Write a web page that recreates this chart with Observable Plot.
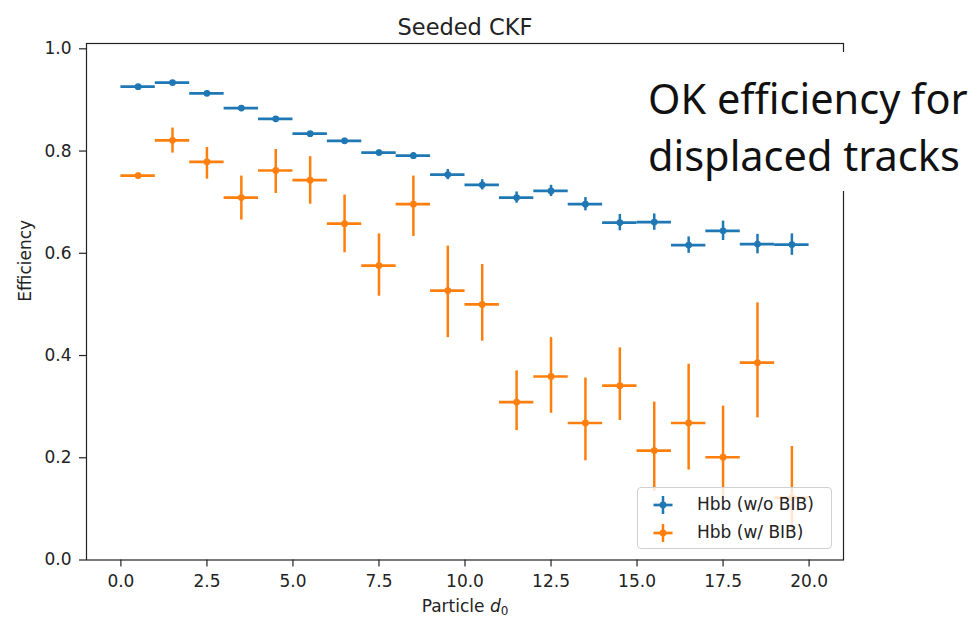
<!DOCTYPE html>
<html>
<head>
<meta charset="utf-8">
<script src="https://cdn.jsdelivr.net/npm/d3@7"></script>
<script src="https://cdn.jsdelivr.net/npm/@observablehq/plot@0.6"></script>
<style>
  body { margin: 0; background: #fff; }
  #wrap { position: relative; width: 977px; height: 619px; overflow: hidden; background: #fff; }
  #note { position: absolute; left: 640px; top: 52px; width: 337px; height: 139px; background: #fff; }
  #note div { position: absolute; left: 8px; top: 18px; font-family: "Noto Sans", sans-serif; font-size: 41.5px; line-height: 57px; color: #111; white-space: nowrap; }
  #legend { position: absolute; left: 637px; top: 487px; width: 195px; height: 62px; box-sizing: border-box;
            border: 1px solid #d0d0d0; border-radius: 4px; background: rgba(255,255,255,0.8);
            font-family: "DejaVu Sans", sans-serif; font-size: 17px; color: #222; }
  .item { position: absolute; left: 0; height: 20px; }
  .item svg { position: absolute; left: 15px; top: 0; }
  .item span { position: absolute; left: 59px; top: -1px; line-height: 20px; white-space: nowrap; }
</style>
</head>
<body>
<div id="wrap"></div>
<script>
// ---- data ----
const bins = [0.5, 1.5, 2.5, 3.5, 4.5, 5.5, 6.5, 7.5, 8.5, 9.5, 10.5, 11.5, 12.5, 13.5, 14.5, 15.5, 16.5, 17.5, 18.5, 19.5];
const binHalfWidth = 0.5;
const seriesNames = ["Hbb (w/o BIB)", "Hbb (w/ BIB)"];
const seriesColors = ["#1f77b4", "#ff7f0e"];
const blueEff = [0.926, 0.934, 0.913, 0.884, 0.863, 0.834, 0.820, 0.797, 0.791, 0.754, 0.734, 0.709, 0.722, 0.696, 0.660, 0.661, 0.616, 0.644, 0.618, 0.617];
const blueErr = [0.003, 0.003, 0.004, 0.004, 0.004, 0.004, 0.005, 0.005, 0.006, 0.010, 0.010, 0.011, 0.011, 0.013, 0.016, 0.016, 0.016, 0.019, 0.019, 0.021];
const orangeEff = [0.752, 0.821, 0.779, 0.709, 0.762, 0.743, 0.658, 0.576, 0.696, 0.527, 0.500, 0.309, 0.359, 0.268, 0.341, 0.214, 0.268, 0.201, 0.386, 0.122];
const orangeErrLo = [0.005, 0.025, 0.034, 0.044, 0.045, 0.047, 0.057, 0.060, 0.063, 0.092, 0.072, 0.056, 0.072, 0.074, 0.068, 0.080, 0.092, 0.080, 0.108, 0.070];
const orangeErrHi = [0.005, 0.024, 0.028, 0.042, 0.041, 0.046, 0.056, 0.062, 0.055, 0.087, 0.078, 0.061, 0.076, 0.088, 0.074, 0.095, 0.115, 0.100, 0.117, 0.100];
const xTicks = [0, 2.5, 5, 7.5, 10, 12.5, 15, 17.5, 20];
const yTicks = [0, 0.2, 0.4, 0.6, 0.8, 1.0];
const titleText = "Seeded CKF";
const yLabel = "Efficiency";
const xLabel = "Particle d0";
const noteLines = ["OK efficiency for", "displaced tracks"];

// ---- rows ----
const rows = [];
bins.forEach((b, i) => {
  rows.push({series: seriesNames[0], x: b, y: blueEff[i], lo: blueEff[i] - blueErr[i], hi: blueEff[i] + blueErr[i]});
});
bins.forEach((b, i) => {
  rows.push({series: seriesNames[1], x: b, y: orangeEff[i], lo: orangeEff[i] - orangeErrLo[i], hi: orangeEff[i] + orangeErrHi[i]});
});

const chart = Plot.plot({
  width: 977, height: 619,
  marginLeft: 86, marginRight: 134, marginTop: 43, marginBottom: 59.5,
  x: {domain: [-1, 21], label: null},
  y: {domain: [0, 1.0104], label: null},
  color: {domain: seriesNames, range: seriesColors},
  style: {fontFamily: "DejaVu Sans, sans-serif", fontSize: "17px", color: "#222", background: "#fff", overflow: "visible"},
  marks: [
    Plot.axisX({ticks: xTicks, tickFormat: d => d.toFixed(1), tickSize: 7, tickPadding: 8, label: null, stroke: "#222", strokeWidth: 1.2, fontSize: 17}),
    Plot.axisY({ticks: yTicks, tickFormat: d => d.toFixed(1), tickSize: 7, tickPadding: 8, label: null, stroke: "#222", strokeWidth: 1.2, fontSize: 17}),
    Plot.ruleY(rows, {y: "y", x1: d => d.x - binHalfWidth, x2: d => d.x + binHalfWidth, stroke: "series", strokeWidth: 2.7}),
    Plot.ruleX(rows, {x: "x", y1: "lo", y2: "hi", stroke: "series", strokeWidth: 2.5}),
    Plot.dot(rows, {x: "x", y: "y", fill: "series", r: 3.4, stroke: null}),
    Plot.frame({stroke: "#222", strokeWidth: 1.2}),
    Plot.text([titleText], {text: d => d, frameAnchor: "top", lineAnchor: "bottom", dy: -9, fontSize: 22.5, fill: "#222"}),
    Plot.text([yLabel], {text: d => d, frameAnchor: "left", rotate: -90, dx: -61, lineAnchor: "middle", fontSize: 17, fill: "#222"}),
    Plot.text([xLabel], {text: d => d, frameAnchor: "bottom", dy: 47, lineAnchor: "middle", fontSize: 17, fill: "#222"})
  ]
});

// subscript / italic for x label
chart.querySelectorAll("text").forEach(t => {
  if (t.textContent === xLabel) {
    t.textContent = "";
    const ns = "http://www.w3.org/2000/svg";
    const a = document.createElementNS(ns, "tspan"); a.textContent = "Particle ";
    const b = document.createElementNS(ns, "tspan"); b.textContent = "d"; b.setAttribute("font-style", "italic");
    const c = document.createElementNS(ns, "tspan"); c.textContent = "0"; c.setAttribute("font-size", "12"); c.setAttribute("dy", "3");
    t.append(a, b, c);
  }
});

const wrap = document.getElementById("wrap");
wrap.appendChild(chart);

// annotation
const note = document.createElement("div");
note.id = "note";
const inner = document.createElement("div");
inner.innerHTML = noteLines.join("<br>");
note.appendChild(inner);
wrap.appendChild(note);

// legend
const legend = document.createElement("div");
legend.id = "legend";
seriesNames.forEach((name, i) => {
  const item = document.createElement("div");
  item.className = "item";
  item.style.top = (7 + i * 28) + "px";
  item.innerHTML = `<svg width="20" height="20" viewBox="0 0 20 20">
    <line x1="0.5" y1="10" x2="19.5" y2="10" stroke="${seriesColors[i]}" stroke-width="2.7"/>
    <line x1="10" y1="1" x2="10" y2="19" stroke="${seriesColors[i]}" stroke-width="2.5"/>
    <circle cx="10" cy="10" r="3.4" fill="${seriesColors[i]}"/></svg><span>${name}</span>`;
  legend.appendChild(item);
});
wrap.appendChild(legend);
</script>
</body>
</html>
